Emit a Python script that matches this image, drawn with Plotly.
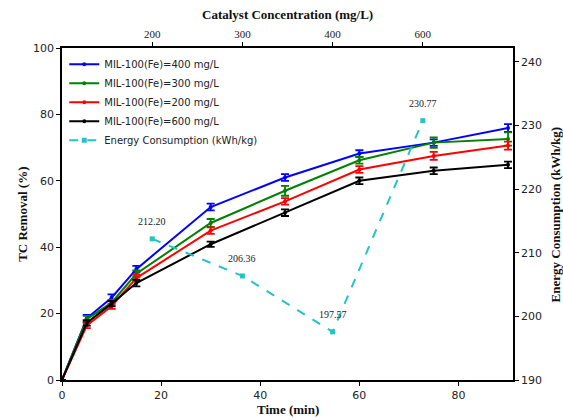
import plotly.graph_objects as go

time = [0, 5, 10, 15, 30, 45, 60, 75, 90]
tc_400 = [0, 18.6, 24.8, 33.4, 52.1, 61.0, 68.2, 71.5, 75.9]
tc_300 = [0, 18.3, 23.3, 32.0, 47.3, 57.0, 66.2, 71.5, 72.6]
tc_200 = [0, 16.4, 22.2, 30.7, 45.0, 53.8, 63.4, 67.5, 70.6]
tc_600 = [0, 17.2, 23.0, 29.2, 40.9, 50.4, 60.0, 63.0, 64.8]
err_400 = [0, 1.0, 1.0, 1.0, 1.0, 1.0, 1.0, 1.0, 1.2]
err_300 = [0, 1.0, 0.8, 1.0, 1.2, 1.5, 1.0, 1.6, 2.0]
err_200 = [0, 0.8, 0.8, 1.0, 1.0, 1.0, 1.0, 1.2, 1.2]
err_600 = [0, 0.8, 0.8, 1.0, 0.8, 1.0, 1.0, 1.0, 1.0]

conc_pos = [1, 2, 3, 4]
conc_labels = ["200", "300", "400", "600"]
energy = [212.20, 206.36, 197.57, 230.77]

series = [
    ("MIL-100(Fe)=400 mg/L", tc_400, err_400, "#0000FF"),
    ("MIL-100(Fe)=300 mg/L", tc_300, err_300, "#008000"),
    ("MIL-100(Fe)=200 mg/L", tc_200, err_200, "#FF0000"),
    ("MIL-100(Fe)=600 mg/L", tc_600, err_600, "#000000"),
]

fig = go.Figure()
for name, ys, es, col in series:
    fig.add_trace(go.Scatter(
        x=time, y=ys, name=name, mode="lines+markers",
        line=dict(color=col, width=2),
        marker=dict(color=col, size=4),
        error_y=dict(type="data", array=es, visible=True, color=col, thickness=1.8, width=4),
        xaxis="x", yaxis="y",
    ))

fig.add_trace(go.Scatter(
    x=conc_pos, y=energy, name="Energy Consumption (kWh/kg)", mode="lines+markers",
    line=dict(color="#22C4C4", width=2, dash="dash"),
    marker=dict(color="#22C4C4", size=5, symbol="square"),
    xaxis="x2", yaxis="y2",
))

for xp, e in zip(conc_pos, energy):
    fig.add_annotation(x=xp, y=e, xref="x2", yref="y2", text=f"{e:.2f}",
                       showarrow=False, yshift=17,
                       font=dict(family="Liberation Serif", size=10, color="#222"))

title_font = dict(family="Liberation Serif", size=13, color="#111")
fig.add_annotation(text="<b>Time (min)</b>", xref="paper", yref="paper", x=0.5, y=-0.09,
                   xanchor="center", yanchor="middle", showarrow=False, font=title_font)
fig.add_annotation(text="<b>Catalyst Concentration (mg/L)</b>", xref="paper", yref="paper", x=0.5, y=1.10,
                   xanchor="center", yanchor="middle", showarrow=False, font=title_font)
fig.add_annotation(text="<b>TC Removal (%)</b>", xref="paper", yref="paper", x=-0.089, y=0.5,
                   xanchor="center", yanchor="middle", showarrow=False, textangle=-90, font=title_font)
fig.add_annotation(text="<b>Energy Consumption (kWh/kg)</b>", xref="paper", yref="paper", x=1.094, y=0.5,
                   xanchor="center", yanchor="middle", showarrow=False, textangle=-90, font=title_font)

axis_line = dict(showline=True, linecolor="black", linewidth=1.5, ticks="outside",
                 ticklen=4, tickcolor="black", showgrid=False, zeroline=False, automargin=False)

fig.update_layout(
    width=563, height=420,
    margin=dict(l=62, r=50, t=48, b=40),
    plot_bgcolor="white", paper_bgcolor="white",
    font=dict(family="DejaVu Sans", size=11, color="#222"),
    showlegend=True,
    legend=dict(x=0.005, y=0.995, xanchor="left", yanchor="top",
                bgcolor="rgba(255,255,255,0)", font=dict(family="DejaVu Sans", size=10, color="#222"),
                tracegroupgap=0),
    xaxis=dict(range=[0, 91], tickvals=[0, 20, 40, 60, 80], mirror=True, **axis_line),
    yaxis=dict(range=[0, 100], tickvals=[0, 20, 40, 60, 80, 100], mirror=True, **axis_line),
    xaxis2=dict(overlaying="x", side="top", anchor="y", range=[0, 5],
                tickvals=conc_pos, ticktext=conc_labels,
                tickfont=dict(family="Liberation Serif", size=11, color="#222"),
                **axis_line),
    yaxis2=dict(overlaying="y", side="right", anchor="x", range=[190, 242.2],
                tickvals=[190, 200, 210, 220, 230, 240], **axis_line),
)

fig.write_html("out.html")
